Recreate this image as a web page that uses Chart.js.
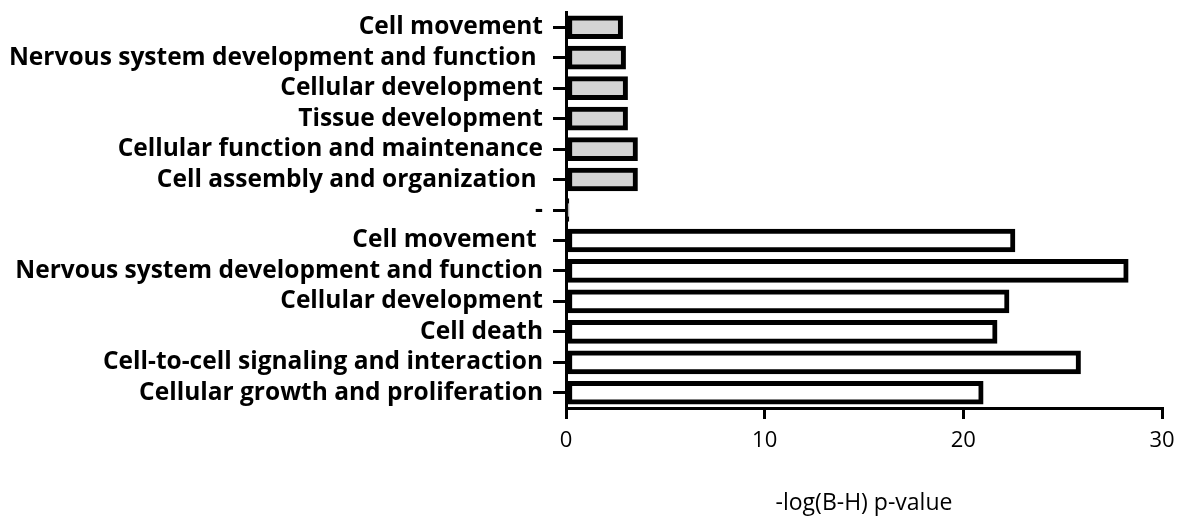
<!DOCTYPE html>
<html>
<head>
<meta charset="utf-8">
<script src="https://cdn.jsdelivr.net/npm/chart.js@4.4.1/dist/chart.umd.min.js"></script>
<style>
  html, body { margin: 0; padding: 0; background: #fff; }
  #wrap { width: 1179px; height: 520px; position: relative; }
</style>
</head>
<body>
<div id="wrap"><canvas id="c"></canvas></div>
<script>
const categories = [
  "Cell movement",
  "Nervous system development and function ",
  "Cellular development",
  "Tissue development",
  "Cellular function and maintenance",
  "Cell assembly and organization ",
  "-",
  "Cell movement ",
  "Nervous system development and function",
  "Cellular development",
  "Cell death",
  "Cell-to-cell signaling and interaction",
  "Cellular growth and proliferation"
];
const values = [2.85, 3.0, 3.1, 3.1, 3.6, 3.6, 0.15, 22.6, 28.3, 22.3, 21.7, 25.9, 21.0];
const greyGroupCount = 7;
const xTicks = [0, 10, 20, 30];
const xTitle = "-log(B-H) p-value";

const labelFont = { family: "'Open Sans', sans-serif", size: 24.5, weight: 'bold' };

new Chart(document.getElementById('c'), {
  type: 'bar',
  data: {
    labels: categories,
    datasets: [{
      data: values,
      backgroundColor: ctx => ctx.dataIndex < greyGroupCount ? '#d4d4d4' : '#ffffff',
      borderColor: '#000',
      borderWidth: 5,
      borderSkipped: false,
      barThickness: 23
    }]
  },
  options: {
    indexAxis: 'y',
    responsive: true,
    maintainAspectRatio: false,
    animation: false,
    layout: { padding: { left: 0, right: 17, top: 12, bottom: 0 } },
    plugins: { legend: { display: false }, tooltip: { enabled: false } },
    scales: {
      y: {
        offset: true,
        afterFit: s => { s.width = 566; s.paddingTop = 0; s.paddingBottom = 0; },
        grid: { display: true, offset: false, drawOnChartArea: false, drawTicks: true, tickLength: 13, color: '#000', lineWidth: 3 },
        border: { display: true, color: '#000', width: 3 },
        ticks: { color: '#000', font: labelFont, padding: 10, autoSkip: false }
      },
      x: {
        min: 0, max: 30,
        afterBuildTicks: s => { s.ticks = xTicks.map(v => ({ value: v })); },
        afterFit: s => { s.height = 112; s.paddingLeft = 0; s.paddingRight = 0; },
        grid: { display: true, drawOnChartArea: false, drawTicks: true, tickLength: 11, color: '#000', lineWidth: 3 },
        border: { display: true, color: '#000', width: 3 },
        ticks: { color: '#000', font: { family: "'Open Sans', sans-serif", size: 22 }, padding: 9 },
        title: { display: true, text: xTitle, color: '#000', font: { family: "'Open Sans', sans-serif", size: 23 }, padding: { top: 0, bottom: 3 } }
      }
    }
  }
});
</script>
</body>
</html>
